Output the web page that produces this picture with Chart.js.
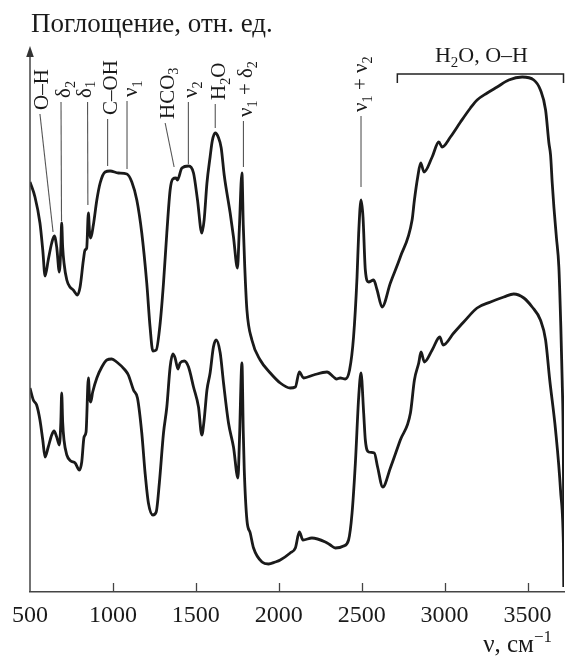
<!DOCTYPE html>
<html>
<head>
<meta charset="utf-8">
<script src="https://cdn.jsdelivr.net/npm/chart.js@4.4.0/dist/chart.umd.min.js"></script>
<style>
html,body{margin:0;padding:0;background:#fff;}
canvas{display:block;}
</style>
</head>
<body>
<canvas id="c" width="567" height="656"></canvas>
<script>
// ---- data (wavenumber, cm^-1 ; absorption, rel. units) ----
const tickValues = [500, 1000, 1500, 2000, 2500, 3000, 3500];

const nuTop = [500,530,560,577,591,610,631,647,661,677,686,691,697,705,722,741,761,786,802,822,
  832,842,852,859,866,882,903,923,953,983,1033,1084,1114,1144,1174,1204,1224,1241,1261,1285,
  1305,1325,1345,1361,1381,1389,1416,1456,1486,1510,1536,1550,1567,1586,1599,1617,1635,1653,1671,1707,
  1727,1751,1762,1778,1786,1795,1808,1838,1888,1949,2009,2069,2100,2124,2150,2210,2291,2331,2347,2371,
  2401,2427,2451,2472,2482,2496,2508,2522,2542,2572,2593,2623,2673,2733,2804,2818,2838,2856,2876,2925,
  2965,2985,3035,3096,3156,3196,3257,3317,3387,3468,3538,3578,3609,3629,3639,3649,3659,3674,3689,3700,
  3709,3716,3720];
const absTop = [410,395,369,342,316,332,349,356,345,320,345,369,345,329,312,305,302,297,305,332,
  342,344,379,360,354,367,392,409,420,421,419,418,410,392,359,309,265,241,242,269,
  309,359,402,413,414,412,424,426,419,392,359,372,409,435,451,459,455,444,417,379,
  355,324,362,419,367,325,282,252,232,219,209,204,205,220,214,217,220,215,213,214,
  213,222,255,315,359,392,375,322,310,312,302,285,309,335,372,392,415,429,420,435,
  450,445,455,470,484,492,499,505,512,515,512,502,482,449,437,409,385,355,325,270,
  212,142,5];

const nuLow = [500,520,540,560,577,591,610,631,645,661,677,686,691,697,705,722,746,772,798,812,
  826,838,852,859,866,878,903,933,963,993,1023,1073,1093,1124,1148,1174,1194,1214,1241,1261,
  1280,1305,1325,1345,1361,1375,1392,1405,1430,1456,1486,1516,1536,1550,1567,1586,1606,1623,1647,1667,
  1697,1727,1754,1763,1778,1786,1792,1808,1828,1848,1899,1938,1979,2009,2069,2100,2124,2146,2200,2281,
  2311,2341,2391,2421,2442,2462,2482,2496,2512,2522,2542,2576,2596,2627,2673,2733,2794,2818,2844,2858,
  2878,2925,2971,2991,3055,3115,3196,3277,3357,3417,3478,3528,3578,3609,3634,3669,3699,3718,3720];
const absLow = [204,192,187,172,152,135,145,157,161,155,147,170,199,170,152,137,131,129,122,130,
  155,160,214,195,190,200,214,225,232,233,230,222,217,202,194,159,119,89,77,80,
  109,159,185,225,238,234,223,229,231,225,205,185,157,172,202,219,245,252,239,209,
  169,145,114,152,229,160,122,72,59,44,30,28,30,32,39,44,60,52,54,50,
  47,44,46,52,79,129,195,219,179,152,140,139,125,105,124,152,179,212,229,240,
  230,242,255,247,259,270,284,290,295,298,294,285,272,252,212,162,102,35,5];

const titleText = 'Поглощение, отн. ед.';
const xTitleParts = [['ν, см',0],['−1',2]];

// peak labels: text parts, leader top [ν, value], leader bottom [ν, value]
const peakLabels = [
  {parts:[['O–H',0]],                         top:[560,478],  bottom:[639,360]},
  {parts:[['δ',0],['2',1]],                    top:[687,490],  bottom:[690,371]},
  {parts:[['δ',0],['1',1]],                    top:[847,490],  bottom:[849,387]},
  {parts:[['C–OH',0]],                        top:[968,473],  bottom:[968,426]},
  {parts:[['ν',0],['1',1]],                    top:[1085,491], bottom:[1085,423]},
  {parts:[['HCO',0],['3',1]],                  top:[1315,469], bottom:[1369,425]},
  {parts:[['ν',0],['2',1]],                    top:[1455,490], bottom:[1455,428]},
  {parts:[['H',0],['2',1],['O',0]],            top:[1617,488], bottom:[1617,464]},
  {parts:[['ν',0],['1',1],[' + δ',0],['2',1]], top:[1787,471], bottom:[1787,425]},
  {parts:[['ν',0],['1',1],[' + ν',0],['2',1]], top:[2496,476], bottom:[2496,405]}
];
const bracket = {parts:[['H',0],['2',1],['O, O–H',0]], from:2715, to:3717, level:518, tickDrop:9, textLevel:530};

// ---- styling (not data) ----
const FAM = '"Liberation Serif", "DejaVu Serif", serif';
const labelDx = [8.5, 9, 3, 9, 10, 8.5, 9, 10, 9, 6];
const LABEL_SIZE = 21;

function drawParts(ctx, parts, x, y, size) {
  let cx = x;
  ctx.textAlign = 'left';
  ctx.textBaseline = 'alphabetic';
  for (const [t, k] of parts) {
    const s = k ? size * 0.68 : size;
    ctx.font = s + 'px ' + FAM;
    const dy = k === 1 ? size * 0.22 : (k === 2 ? -size * 0.42 : 0);
    ctx.fillText(t, cx, y + dy);
    cx += ctx.measureText(t).width;
  }
  return cx - x;
}
function partsWidth(ctx, parts, size) {
  let w = 0;
  for (const [t, k] of parts) {
    ctx.font = (k ? size * 0.68 : size) + 'px ' + FAM;
    w += ctx.measureText(t).width;
  }
  return w;
}

const decor = {
  id: 'decor',
  afterDraw(chart) {
    const ctx = chart.ctx;
    const xs = chart.scales.x, ys = chart.scales.y;
    const area = chart.chartArea;
    ctx.save();
    // y axis with arrow
    ctx.strokeStyle = '#444';
    ctx.fillStyle = '#333';
    ctx.lineWidth = 1.5;
    ctx.beginPath();
    ctx.moveTo(area.left, area.bottom);
    ctx.lineTo(area.left, area.top + 6);
    ctx.stroke();
    ctx.beginPath();
    ctx.moveTo(area.left, area.top - 1);
    ctx.lineTo(area.left - 3.8, area.top + 10);
    ctx.lineTo(area.left + 3.8, area.top + 10);
    ctx.closePath();
    ctx.fill();
    // inward tick marks
    ctx.lineWidth = 1.3;
    for (const t of xs.ticks) {
      const px = Math.round(xs.getPixelForValue(t.value)) + 0.5;
      if (px <= area.left + 2) continue;
      ctx.beginPath();
      ctx.moveTo(px, area.bottom);
      ctx.lineTo(px, area.bottom - 9);
      ctx.stroke();
    }
    // peak labels with leaders
    ctx.fillStyle = '#1a1a1a';
    ctx.strokeStyle = '#555';
    ctx.lineWidth = 1.1;
    peakLabels.forEach((L, i) => {
      const x0 = xs.getPixelForValue(L.top[0]), y0 = ys.getPixelForValue(L.top[1]);
      const x1 = xs.getPixelForValue(L.bottom[0]), y1 = ys.getPixelForValue(L.bottom[1]);
      ctx.beginPath();
      ctx.moveTo(x0, y0);
      ctx.lineTo(x1, y1);
      ctx.stroke();
      ctx.save();
      ctx.translate(x0 + labelDx[i], y0 - 4);
      ctx.rotate(-Math.PI / 2);
      drawParts(ctx, L.parts, 0, 0, LABEL_SIZE);
      ctx.restore();
    });
    // bracket
    const bx0 = xs.getPixelForValue(bracket.from), bx1 = xs.getPixelForValue(bracket.to);
    const by = ys.getPixelForValue(bracket.level);
    ctx.strokeStyle = '#222';
    ctx.lineWidth = 1.5;
    ctx.beginPath();
    ctx.moveTo(bx0, by + bracket.tickDrop);
    ctx.lineTo(bx0, by);
    ctx.lineTo(bx1, by);
    ctx.lineTo(bx1, by + bracket.tickDrop);
    ctx.stroke();
    const bw = partsWidth(ctx, bracket.parts, 22);
    const bcx = (bx0 + bx1) / 2 + 1;
    drawParts(ctx, bracket.parts, bcx - bw / 2, ys.getPixelForValue(bracket.textLevel), 22);
    // chart title (y axis caption)
    ctx.font = '27px ' + FAM;
    ctx.textAlign = 'left';
    ctx.textBaseline = 'alphabetic';
    ctx.fillText(titleText, area.left + 1, 32);
    // x axis caption
    const xw = partsWidth(ctx, xTitleParts, 25);
    drawParts(ctx, xTitleParts, area.right - 12 - xw, chart.height - 4, 25);
    ctx.restore();
  }
};

const mk = (nu, ab) => nu.map((v, i) => ({x: v, y: ab[i]}));

new Chart(document.getElementById('c').getContext('2d'), {
  type: 'scatter',
  data: {
    datasets: [
      {data: mk(nuTop, absTop), showLine: true, borderColor: '#1a1a1a', borderWidth: 2.8,
       pointRadius: 0, cubicInterpolationMode: 'monotone', fill: false},
      {data: mk(nuLow, absLow), showLine: true, borderColor: '#1a1a1a', borderWidth: 2.8,
       pointRadius: 0, cubicInterpolationMode: 'monotone', fill: false}
    ]
  },
  options: {
    responsive: false,
    animation: false,
    events: [],
    layout: {padding: {left: 30, right: 3, top: 47, bottom: 0}},
    plugins: {legend: {display: false}, tooltip: {enabled: false}},
    scales: {
      x: {
        type: 'linear', min: 500, max: 3720,
        afterBuildTicks: s => { s.ticks = tickValues.map(v => ({value: v})); },
        afterFit: s => { s.height = 64; },
        grid: {display: false, drawTicks: false},
        border: {display: true, color: '#444', width: 1.5},
        ticks: {font: {family: FAM, size: 24}, color: '#1a1a1a', padding: 9,
                maxRotation: 0, autoSkip: false, callback: v => String(v)}
      },
      y: {type: 'linear', min: 0, max: 545, display: false}
    }
  },
  plugins: [decor]
});
</script>
</body>
</html>
